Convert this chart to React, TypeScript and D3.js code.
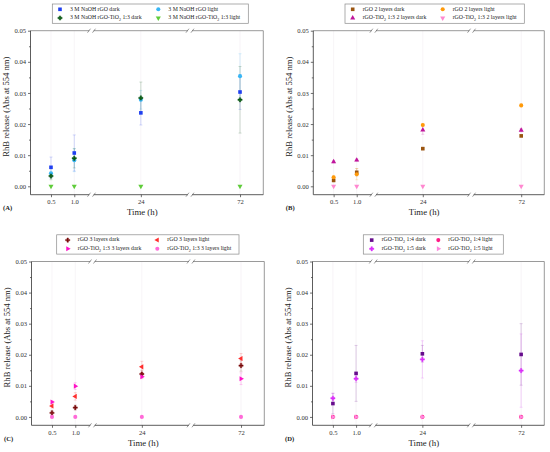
import React, { useEffect, useRef } from "react";
import * as d3 from "d3";

// shared axes
const times = [0.5, 1.0, 24, 72];
const timeLabels = ["0.5", "1.0", "24", "72"];
const yTicks = [0, 0.01, 0.02, 0.03, 0.04, 0.05];
const yMinorTicks = [0.005, 0.015, 0.025, 0.035, 0.045];

// (A) 3 M NaOH
const naohRgoDark = [0.0061, 0.0107, 0.0236, 0.0303];
const naohRgoDarkErr = [0.0033, 0.0058, 0.0039, 0.0056];
const naohRgoLight = [0.0042, 0.0084, 0.0278, 0.0354];
const naohRgoLightErr = [0.0015, 0.0037, 0.003, 0.0072];
const naohTiDark = [0.0033, 0.009, 0.0284, 0.0278];
const naohTiDarkErr = [0.0012, 0.0031, 0.0051, 0.0107];
const naohTiLight = [0, 0, 0, 0];
const naohTiLightErr = [0, 0, 0, 0];

// (B) 2 layers
const l2RgoDark = [0.0019, 0.0045, 0.0121, 0.0162];
const l2RgoDarkErr = [0.0005, 0.0012, 0.0004, 0.0004];
const l2RgoLight = [0.0029, 0.0039, 0.0197, 0.026];
const l2RgoLightErr = [0.0006, 0.0018, 0.0005, 0.0004];
const l2TiDark = [0.0079, 0.0084, 0.0181, 0.018];
const l2TiDarkErr = [0.0004, 0.0004, 0.0014, 0.0005];
const l2TiLight = [0, 0, 0, 0];
const l2TiLightErr = [0, 0, 0, 0];

// (C) 3 layers
const l3RgoDark = [0.0013, 0.003, 0.0138, 0.0165];
const l3RgoDarkErr = [0.0008, 0.0008, 0.0012, 0.0018];
const l3RgoLight = [0.0035, 0.0066, 0.0161, 0.0188];
const l3RgoLightErr = [0.0006, 0.0012, 0.0018, 0.0016];
const l3TiDark = [0.0048, 0.0099, 0.0129, 0.0123];
const l3TiDarkErr = [0.0004, 0.0011, 0.0006, 0.0019];
const l3TiLight = [0, 0, 0, 0];
const l3TiLightErr = [0, 0, 0, 0];

// (D) 1:4 and 1:5
const r14Dark = [0.0043, 0.014, 0.0203, 0.0201];
const r14DarkErr = [0.0033, 0.009, 0.0027, 0.0099];
const r14Light = [0, 0, 0, 0];
const r14LightErr = [0, 0, 0, 0];
const r15Dark = [0.006, 0.0123, 0.0185, 0.0149];
const r15DarkErr = [0.0016, 0.0012, 0.006, 0.0118];
const r15Light = [0, 0, 0, 0];
const r15LightErr = [0, 0, 0, 0];

const FONT = "'Liberation Serif', 'Times New Roman', serif";

const shapes: any = {
  square: { type: d3.symbolSquare, size: 13, rot: 0 },
  circle: { type: d3.symbolCircle, size: 13, rot: 0 },
  plus: { type: d3.symbolCross, size: 10, rot: 0 },
  up: { type: d3.symbolTriangle, size: 11, rot: 0 },
  down: { type: d3.symbolTriangle, size: 11, rot: 180 },
  left: { type: d3.symbolTriangle, size: 11, rot: -90 },
  right: { type: d3.symbolTriangle, size: 11, rot: 90 },
};

const Marker = ({ shape, color, x, y }: any) => {
  const s = shapes[shape];
  const d = d3.symbol().type(s.type).size(s.size)() as string;
  return (
    <path
      d={d}
      fill={color}
      stroke={shape === "plus" ? color : "none"}
      strokeWidth={0.45}
      strokeLinejoin="round"
      transform={`translate(${x},${y}) rotate(${s.rot})`}
    />
  );
};

const Label = ({ text }: any) => {
  const parts = text.split("TiO2");
  return (
    <>
      {parts.map((p: string, i: number) => (
        <React.Fragment key={i}>
          {p}
          {i < parts.length - 1 && (
            <>
              TiO
              <tspan baselineShift="sub" fontSize="0.7em">2</tspan>
            </>
          )}
        </React.Fragment>
      ))}
    </>
  );
};

const panels = [
  {
    letter: "(A)",
    frame: { left: 30.5, right: 263.3, top: 30.7, bottom: 194.7 },
    legend: { x: 21.8, w: 196, c1: 7.7, c2: 106 },
    series: [
      { name: "3 M NaOH rGO dark", values: naohRgoDark, err: naohRgoDarkErr, shape: "square", color: "#1f3ff0" },
      { name: "3 M NaOH rGO light", values: naohRgoLight, err: naohRgoLightErr, shape: "circle", color: "#38b6f5" },
      { name: "3 M NaOH rGO-TiO2 1:3 dark", values: naohTiDark, err: naohTiDarkErr, shape: "plus", color: "#0b5a14" },
      { name: "3 M NaOH rGO-TiO2 1:3 light", values: naohTiLight, err: naohTiLightErr, shape: "down", color: "#5fcc3a" },
    ],
  },
  {
    letter: "(B)",
    frame: { left: 313.3, right: 544.3, top: 30.7, bottom: 194.7 },
    legend: { x: 31.7, w: 179.3, c1: 7.7, c2: 97.7 },
    series: [
      { name: "rGO 2 layers dark", values: l2RgoDark, err: l2RgoDarkErr, shape: "square", color: "#9a5510" },
      { name: "rGO 2 layers light", values: l2RgoLight, err: l2RgoLightErr, shape: "circle", color: "#ff9a0a" },
      { name: "rGO-TiO2 1:3 2 layers dark", values: l2TiDark, err: l2TiDarkErr, shape: "up", color: "#c0169c" },
      { name: "rGO-TiO2 1:3  2 layers light", values: l2TiLight, err: l2TiLightErr, shape: "down", color: "#ff88d0" },
    ],
  },
  {
    letter: "(C)",
    frame: { left: 31.5, right: 264.3, top: 261.5, bottom: 425.3 },
    legend: { x: 25.2, w: 182.3, c1: 11, c2: 100.6 },
    series: [
      { name: "rGO 3 layers dark", values: l3RgoDark, err: l3RgoDarkErr, shape: "plus", color: "#7a0c0c" },
      { name: "rGO 3 layers light", values: l3RgoLight, err: l3RgoLightErr, shape: "left", color: "#ff2e2e" },
      { name: "rGO-TiO2 1:3 3 layers dark", values: l3TiDark, err: l3TiDarkErr, shape: "right", color: "#ff12c6" },
      { name: "rGO-TiO2 1:3  3 layers light", values: l3TiLight, err: l3TiLightErr, shape: "circle", color: "#ff6ad8" },
    ],
  },
  {
    letter: "(D)",
    frame: { left: 312.5, right: 544.3, top: 261.5, bottom: 425.3 },
    legend: { x: 50.8, w: 140, c1: 8.4, c2: 75 },
    series: [
      { name: "rGO-TiO2 1:4 dark", values: r14Dark, err: r14DarkErr, shape: "square", color: "#660c8c" },
      { name: "rGO-TiO2 1:4 light", values: r14Light, err: r14LightErr, shape: "circle", color: "#ff1a86" },
      { name: "rGO-TiO2 1:5 dark", values: r15Dark, err: r15DarkErr, shape: "plus", color: "#dc30fa" },
      { name: "rGO-TiO2 1:5 light", values: r15Light, err: r15LightErr, shape: "right", color: "#ff86dc" },
    ],
  },
];

const Panel = ({ cfg }: any) => {
  const axRef: any = useRef();
  const { left, right, top, bottom } = cfg.frame;
  const w = right - left;
  const h = bottom - top;
  // broken time axis: piecewise linear over the four sampling times
  const x = d3.scaleLinear().domain(times).range([0.088, 0.188, 0.474, 0.9].map((f) => f * w));
  const y = d3.scaleLinear().domain([-0.0027, 0.05]).range([h, 0]);
  const breaks = [0.262, 0.685].map((f) => f * w);

  useEffect(() => {
    const g = d3.select(axRef.current);
    const yAxis: any = d3.axisLeft(y).tickValues(yTicks).tickFormat(d3.format(".2f")).tickSize(2.5).tickPadding(2);
    const xAxis: any = d3
      .axisBottom(x)
      .tickValues(times)
      .tickFormat((d: any, i: number) => timeLabels[i])
      .tickSize(2.5)
      .tickPadding(2.5);
    const yMinor: any = d3.axisLeft(y).tickValues(yMinorTicks).tickFormat(() => "").tickSize(1.5);
    g.select(".y-axis").call(yAxis);
    g.select(".y-minor").call(yMinor);
    g.select(".x-axis").attr("transform", `translate(0,${h})`).call(xAxis);
    g.selectAll(".domain").remove();
    g.selectAll(".tick line").attr("stroke", "#333").attr("stroke-width", 0.7);
    g.selectAll(".tick text")
      .attr("font-family", FONT)
      .attr("font-size", 6.6)
      .attr("fill", "#333");
  }, []);

  const lg = cfg.legend;
  const rows = [5.3, 14];
  const cols = [lg.c1, lg.c2];

  return (
    <g>
      <g transform={`translate(${left},${top})`}>
        {times.map((t) => (
          <line key={t} x1={x(t)} x2={x(t)} y1={0} y2={h} stroke="#f3eff3" strokeWidth={0.7} />
        ))}
        {/* frame */}
        <line x1={0} x2={w} y1={0} y2={0} stroke="#808080" strokeWidth={0.8} />
        <line x1={w} x2={w} y1={0} y2={h} stroke="#808080" strokeWidth={0.8} />
        <line x1={0} x2={w} y1={h} y2={h} stroke="#333" strokeWidth={0.8} />
        <line x1={0} x2={0} y1={0} y2={h} stroke="#333" strokeWidth={0.8} />
        {breaks.map((bx) =>
          [0, h].map((by) => (
            <g key={`${bx}-${by}`} transform={`translate(${bx},${by})`}>
              <rect x={-2.2} y={-1.2} width={4.4} height={2.4} fill="#fff" />
              <line x1={-4} x2={-1} y1={2} y2={-2} stroke="#555" strokeWidth={0.6} />
              <line x1={1} x2={4} y1={2} y2={-2} stroke="#555" strokeWidth={0.6} />
            </g>
          ))
        )}
        <g ref={axRef}>
          <g className="y-axis" />
          <g className="y-minor" />
          <g className="x-axis" />
        </g>
        {/* error bars */}
        {cfg.series.map((s: any) =>
          s.values.map((v: number, i: number) =>
            s.err[i] > 0 ? (
              <g key={`${s.name}-e${i}`} stroke={s.color} strokeOpacity={0.28} strokeWidth={0.7}>
                <line x1={x(times[i])} x2={x(times[i])} y1={y(v - s.err[i])} y2={y(v + s.err[i])} />
                <line x1={x(times[i]) - 1.5} x2={x(times[i]) + 1.5} y1={y(v - s.err[i])} y2={y(v - s.err[i])} />
                <line x1={x(times[i]) - 1.5} x2={x(times[i]) + 1.5} y1={y(v + s.err[i])} y2={y(v + s.err[i])} />
              </g>
            ) : null
          )
        )}
        {cfg.series.map((s: any) =>
          s.values.map((v: number, i: number) => (
            <Marker key={`${s.name}-m${i}`} shape={s.shape} color={s.color} x={x(times[i])} y={y(v)} />
          ))
        )}
        <text
          transform={`translate(-23.2,${h / 2 - 6}) rotate(-90)`}
          textAnchor="middle"
          dominantBaseline="middle"
          fontFamily={FONT}
          fontSize={8.6}
          fill="#222"
        >
          RhB release (Abs at 554 nm)
        </text>
        <text x={0.48 * w} y={h + 20.5} textAnchor="middle" fontFamily={FONT} fontSize={8.8} fill="#222">
          Time (h)
        </text>
        <text x={-27.5} y={h + 15.5} fontFamily={FONT} fontSize={6.6} fontWeight="bold" fill="#222">
          {cfg.letter}
        </text>
      </g>
      {/* legend */}
      <g transform={`translate(${left + lg.x},${top - 26.7})`}>
        <rect x={0} y={0} width={lg.w} height={19.3} fill="#fff" stroke="#8a8a8a" strokeWidth={0.7} />
        {cfg.series.map((s: any, i: number) => {
          const cx = cols[i % 2];
          const cy = rows[Math.floor(i / 2)];
          return (
            <g key={s.name}>
              <Marker shape={s.shape} color={s.color} x={cx} y={cy} />
              <text x={cx + 10} y={cy} dominantBaseline="middle" fontFamily={FONT} fontSize={5.8} fill="#222">
                <Label text={s.name} />
              </text>
            </g>
          );
        })}
      </g>
    </g>
  );
};

export default function App() {
  return (
    <svg
      width={550}
      height={452}
      style={{ position: "absolute", left: 0, top: 0, background: "#fff" }}
    >
      {panels.map((p) => (
        <Panel key={p.letter} cfg={p} />
      ))}
    </svg>
  );
}
